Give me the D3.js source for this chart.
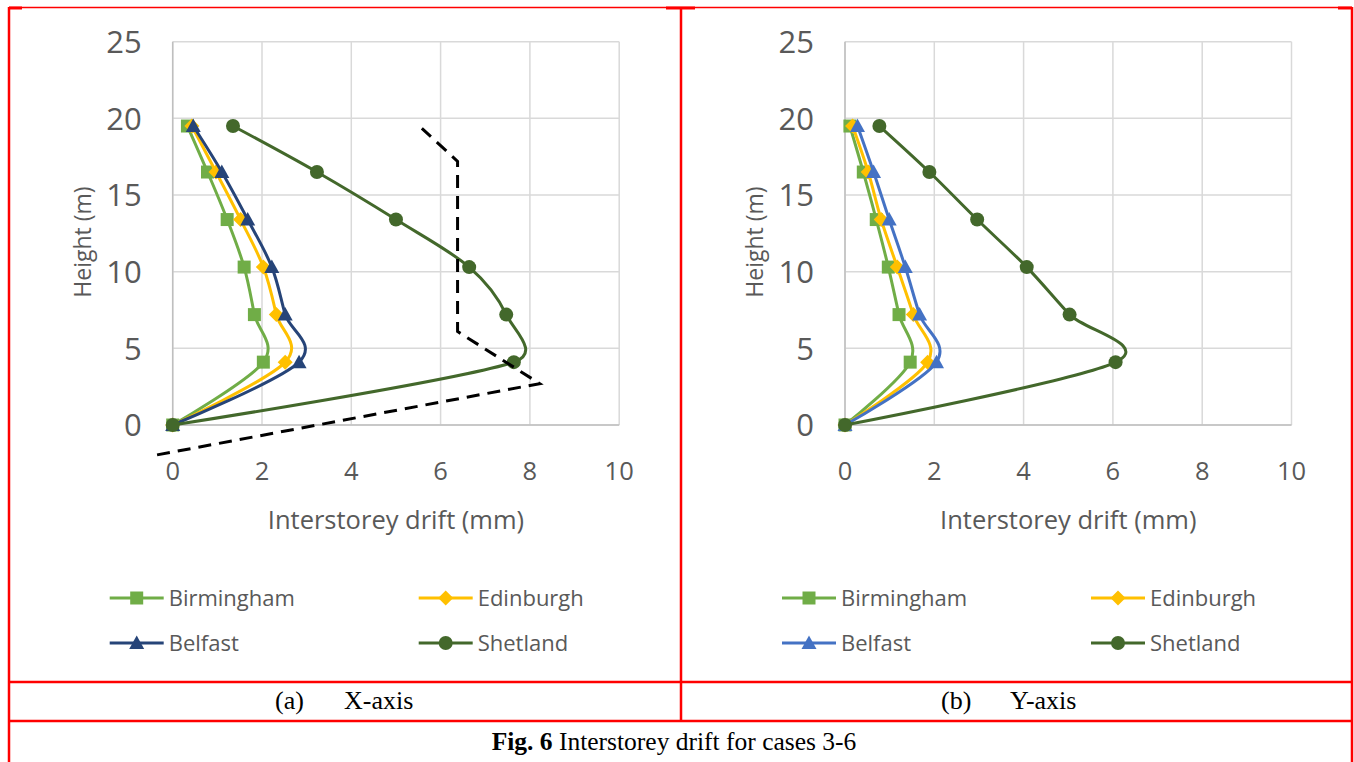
<!DOCTYPE html>
<html>
<head>
<meta charset="utf-8">
<script src="https://cdn.jsdelivr.net/npm/d3@7"></script>
<style>
  body { margin: 0; background: #fff; }
  svg { display: block; }
</style>
</head>
<body>
<svg id="fig" width="1354" height="762"></svg>
<script>
// storey heights (m)
const heights = [0, 4.1, 7.2, 10.3, 13.4, 16.5, 19.5];

// interstorey drift (mm), X-axis
const xBirmingham = [0, 2.03, 1.83, 1.60, 1.22, 0.78, 0.33];
const xEdinburgh  = [0, 2.52, 2.32, 2.03, 1.52, 0.97, 0.43];
const xBelfast    = [0, 2.83, 2.52, 2.22, 1.68, 1.10, 0.46];
const xShetland   = [0, 7.64, 7.47, 6.64, 5.00, 3.23, 1.35];

// interstorey drift (mm), Y-axis
const yBirmingham = [0, 1.46, 1.21, 0.97, 0.70, 0.41, 0.11];
const yEdinburgh  = [0, 1.85, 1.53, 1.17, 0.81, 0.52, 0.17];
const yBelfast    = [0, 2.05, 1.67, 1.35, 0.99, 0.64, 0.28];
const yShetland   = [0, 6.06, 5.03, 4.07, 2.96, 1.89, 0.77];

// dashed outline drawn over chart (a)
const dashDrift  = [-0.35, 8.22, 6.38, 6.38, 5.58];
const dashHeight = [-1.95, 2.70, 6.10, 17.20, 19.35];

const xTicks = [0, 2, 4, 6, 8, 10];
const yTicks = [0, 5, 10, 15, 20, 25];

const names = ["Birmingham", "Edinburgh", "Belfast", "Shetland"];

const svg = d3.select("#fig");
const txtFont = "'Open Sans', sans-serif";
const txtCol = "#595959";

function markerPath(kind) {
    if (kind === "square") return "M-6.5,-6.5H6.5V6.5H-6.5Z";
    if (kind === "diamond") return "M0,-7.5L7.5,0L0,7.5L-7.5,0Z";
    if (kind === "triangle") return "M0,-7.5L7.5,6L-7.5,6Z";
    return d3.symbol(d3.symbolCircle, Math.PI * 49)();
}

// spreadsheet-like smoothing: cardinal bezier, handles capped by segment length
function smoothPath(pts) {
    const p = d3.path();
    const n = pts.length;
    const handle = (i, j, k, seg) => {
        // tangent at point i, pointing from k to j
        let dx = (pts[j][0] - pts[k][0]) / 6, dy = (pts[j][1] - pts[k][1]) / 6;
        const len = Math.hypot(dx, dy), lim = 0.6 * seg;
        if (len > lim && len > 0) { dx *= lim / len; dy *= lim / len; }
        return [dx, dy];
    };
    p.moveTo(pts[0][0], pts[0][1]);
    for (let i = 0; i < n - 1; i++) {
        const a = pts[i], b = pts[i + 1];
        const seg = Math.hypot(b[0] - a[0], b[1] - a[1]);
        const h1 = i === 0 ? [0, 0] : handle(i, i + 1, i - 1, seg);
        const h2 = i + 1 === n - 1 ? [0, 0] : handle(i + 1, i + 2, i, seg);
        p.bezierCurveTo(a[0] + h1[0], a[1] + h1[1], b[0] - h2[0], b[1] - h2[1], b[0], b[1]);
    }
    return p.toString();
}

function drawChart(left, series, colors) {
    const x = d3.scaleLinear().domain([0, 10]).range([left, left + 446.5]);
    const y = d3.scaleLinear().domain([0, 25]).range([425, 41.7]);
    const g = svg.append("g");

    // gridlines
    g.selectAll(".vg").data(xTicks).enter().append("line")
        .attr("x1", d => x(d)).attr("x2", d => x(d))
        .attr("y1", y(0)).attr("y2", y(25))
        .attr("stroke", "#d9d9d9").attr("stroke-width", 1.5);
    g.selectAll(".hg").data(yTicks).enter().append("line")
        .attr("x1", x(0)).attr("x2", x(10))
        .attr("y1", d => y(d)).attr("y2", d => y(d))
        .attr("stroke", "#d9d9d9").attr("stroke-width", 1.5);
    // axis lines
    g.append("line").attr("x1", x(0)).attr("x2", x(10)).attr("y1", y(0)).attr("y2", y(0))
        .attr("stroke", "#bfbfbf").attr("stroke-width", 1.5);
    g.append("line").attr("x1", x(0)).attr("x2", x(0)).attr("y1", y(0)).attr("y2", y(25))
        .attr("stroke", "#bfbfbf").attr("stroke-width", 1.5);

    // tick labels
    g.selectAll(".xl").data(xTicks).enter().append("text")
        .attr("x", d => x(d)).attr("y", 480)
        .attr("text-anchor", "middle")
        .attr("font-family", txtFont).attr("font-size", 25.5).attr("fill", txtCol)
        .text(d => d);
    g.selectAll(".yl").data(yTicks).enter().append("text")
        .attr("x", x(0) - 31).attr("y", d => y(d)).attr("dy", "0.36em")
        .attr("text-anchor", "end")
        .attr("font-family", txtFont).attr("font-size", 31).attr("fill", txtCol)
        .text(d => d);

    // axis titles
    g.append("text")
        .attr("x", (x(0) + x(10)) / 2).attr("y", 529)
        .attr("text-anchor", "middle")
        .attr("font-family", txtFont).attr("font-size", 25.5).attr("fill", txtCol)
        .text("Interstorey drift (mm)");
    g.append("text")
        .attr("transform", `translate(${x(0) - 82},242) rotate(-90)`)
        .attr("text-anchor", "middle")
        .attr("font-family", txtFont).attr("font-size", 23).attr("fill", txtCol)
        .text("Height (m)");

    // series
    const kinds = ["square", "diamond", "triangle", "circle"];
    series.forEach((vals, i) => {
        const pts = vals.map((v, j) => [x(v), y(heights[j])]);
        g.append("path").attr("d", smoothPath(pts))
            .attr("fill", "none").attr("stroke", colors[i]).attr("stroke-width", 3)
            .attr("stroke-linejoin", "round");
        g.selectAll(null).data(pts).enter().append("path")
            .attr("transform", d => `translate(${d[0]},${d[1]})`)
            .attr("d", markerPath(kinds[i]))
            .attr("fill", colors[i]);
    });

    // legend
    const lg = g.append("g");
    names.forEach((n, i) => {
        const lx = left - 63 + (i % 2) * 309;
        const ly = i < 2 ? 598 : 643;
        lg.append("line").attr("x1", lx).attr("x2", lx + 54).attr("y1", ly).attr("y2", ly)
            .attr("stroke", colors[i]).attr("stroke-width", 3);
        lg.append("path").attr("transform", `translate(${lx + 27},${ly})`)
            .attr("d", markerPath(kinds[i])).attr("fill", colors[i]);
        lg.append("text").attr("x", lx + 59).attr("y", ly).attr("dy", "0.35em")
            .attr("font-family", txtFont).attr("font-size", 22).attr("fill", txtCol)
            .text(n);
    });
    return { x, y, g };
}

const a = drawChart(172.7, [xBirmingham, xEdinburgh, xBelfast, xShetland],
    ["#70ad47", "#ffc000", "#264478", "#43682b"]);
drawChart(845, [yBirmingham, yEdinburgh, yBelfast, yShetland],
    ["#70ad47", "#ffc000", "#4472c4", "#43682b"]);

// dashed outline on chart (a)
a.g.append("path")
    .attr("d", d3.line()(dashDrift.map((v, i) => [a.x(v), a.y(dashHeight[i])])))
    .attr("fill", "none").attr("stroke", "#000").attr("stroke-width", 3)
    .attr("stroke-dasharray", "13,8");

// table frame
const red = "#ff0000";
const frame = svg.append("g").attr("stroke", red);
frame.append("line").attr("x1", 9).attr("x2", 1352).attr("y1", 7.5).attr("y2", 7.5).attr("stroke-width", 1.5);
[[9, 22], [666, 695], [1338, 1352]].forEach(s => {
    frame.append("line").attr("x1", s[0]).attr("x2", s[1]).attr("y1", 8).attr("y2", 8).attr("stroke-width", 3);
});
[9, 1352].forEach(xx => {
    frame.append("line").attr("x1", xx).attr("x2", xx).attr("y1", 7).attr("y2", 762).attr("stroke-width", 2.5);
});
frame.append("line").attr("x1", 681).attr("x2", 681).attr("y1", 7).attr("y2", 721).attr("stroke-width", 2.5);
[682, 721].forEach(yy => {
    frame.append("line").attr("x1", 9).attr("x2", 1352).attr("y1", yy).attr("y2", yy).attr("stroke-width", 2.5);
});

// captions
const serif = "'Liberation Serif', 'Times New Roman', serif";
const caps = [["(a)", 275], ["X-axis", 344], ["(b)", 941], ["Y-axis", 1010]];
svg.selectAll(".cap").data(caps).enter().append("text")
    .attr("x", d => d[1]).attr("y", 709)
    .attr("font-family", serif).attr("font-size", 26).attr("fill", "#000")
    .text(d => d[0]);
const fig = svg.append("text").attr("x", 674).attr("y", 750).attr("text-anchor", "middle")
    .attr("font-family", serif).attr("font-size", 25.5).attr("fill", "#000");
fig.append("tspan").attr("font-weight", "bold").text("Fig. 6");
fig.append("tspan").text(" Interstorey drift for cases 3-6");
</script>
</body>
</html>
